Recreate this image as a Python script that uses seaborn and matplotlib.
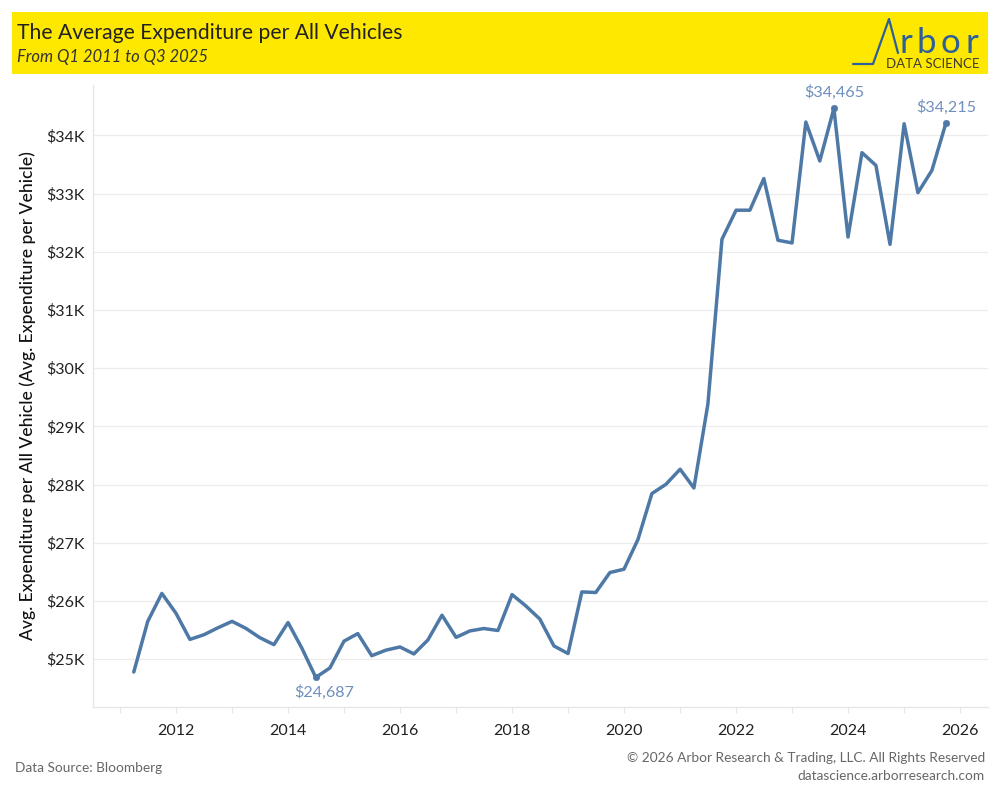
import matplotlib
matplotlib.use("Agg")
import matplotlib.pyplot as plt
import matplotlib.dates as mdates
import matplotlib.ticker as mticker
from matplotlib.patches import Rectangle
from matplotlib.lines import Line2D
import seaborn as sns
import pandas as pd

# ---- data (quarterly, Q1 2011 .. Q3 2025) ----
start_quarter = "2011Q1"
end_quarter = "2025Q3"
avg_expenditure = [
    24780, 25650, 26130, 25790,   # 2011
    25340, 25420, 25540, 25650,   # 2012
    25530, 25370, 25250, 25630,   # 2013
    25190, 24687, 24850, 25310,   # 2014
    25440, 25060, 25155, 25210,   # 2015
    25090, 25330, 25756, 25375,   # 2016
    25486, 25527, 25493, 26110,   # 2017
    25915, 25690, 25228, 25097,   # 2018
    26156, 26146, 26489, 26546,   # 2019
    27056, 27846, 28006, 28264,   # 2020
    27942, 29380, 32216, 32715,   # 2021
    32715, 33259, 32199, 32153,   # 2022
    34231, 33561, 34465, 32254,   # 2023
    33704, 33485, 32128, 34201,   # 2024
    33016, 33399, 34215,          # 2025
]
y_ticks = [25000, 26000, 27000, 28000, 29000, 30000, 31000, 32000, 33000, 34000]
x_tick_years = [2012, 2014, 2016, 2018, 2020, 2022, 2024, 2026]
labelled_quarters = ["2014Q2", "2023Q3", "2025Q3"]

quarters = pd.period_range(start_quarter, end_quarter, freq="Q")
df = pd.DataFrame({
    "quarter": quarters.astype(str),
    "date": quarters.end_time.normalize(),
    "value": avg_expenditure,
})

sns.set_theme(style="white")
plt.rcParams["font.family"] = ["Lato", "DejaVu Sans"]

fig = plt.figure(figsize=(10, 8), dpi=100)
ax = fig.add_axes([0.093, 0.116, 0.895, 0.778])

line_color = "#4e79a7"
label_color = "#6f8fbd"

sns.lineplot(data=df, x="date", y="value", ax=ax, color=line_color, linewidth=2.5)

lab = df[df["quarter"].isin(labelled_quarters)]
sns.scatterplot(data=lab, x="date", y="value", ax=ax, color=line_color, s=22,
                edgecolor=line_color, zorder=5, legend=False)
for _, r in lab.iterrows():
    if r["quarter"] == "2014Q2":
        ax.annotate(f"${r['value']:,.0f}", (r["date"], r["value"]), xytext=(6, -5),
                    textcoords="offset points", ha="center", va="top",
                    color=label_color, fontsize=11.6)
    else:
        ax.annotate(f"${r['value']:,.0f}", (r["date"], r["value"]), xytext=(0, 6),
                    textcoords="offset points", ha="center", va="bottom",
                    color=label_color, fontsize=11.6)

# axes limits
ax.set_xlim(pd.Timestamp("2010-07-08"), pd.Timestamp("2026-07-01"))
ax.set_ylim(24175, 34870)

ax.set_yticks(y_ticks)
ax.yaxis.set_major_formatter(mticker.FuncFormatter(lambda v, p: f"${v/1000:.0f}K"))
ax.xaxis.set_major_locator(mdates.YearLocator(1))
ax.xaxis.set_major_formatter(mticker.FuncFormatter(
    lambda v, p: str(mdates.num2date(v).year) if mdates.num2date(v).year in x_tick_years else ""))

ax.grid(axis="y", color="#ececec", linewidth=0.9)
ax.grid(axis="x", visible=False)
for s in ["top", "right"]:
    ax.spines[s].set_visible(False)
for s in ["left", "bottom"]:
    ax.spines[s].set_color("#e6e6e6")
    ax.spines[s].set_linewidth(1.0)

ax.tick_params(axis="y", length=0, labelsize=11.5, labelcolor="#222222", pad=6)
ax.tick_params(axis="x", length=4, width=0.8, color="#e6e6e6", labelsize=11.5,
               labelcolor="#222222", pad=8, bottom=True)

ax.set_xlabel("")
ax.set_ylabel("Avg. Expenditure per All Vehicle (Avg. Expenditure per Vehicle)",
              fontsize=12.6, color="#111111", labelpad=7, fontweight="medium")

# ---- header ----
fig.patches.append(Rectangle((0.012, 1 - 74 / 800), 0.976, 62 / 800,
                             transform=fig.transFigure, facecolor="#ffe800",
                             edgecolor="none", zorder=0))
fig.text(0.017, 1 - 33 / 800, "The Average Expenditure per All Vehicles",
         fontsize=15.2, color="#222222", va="center", ha="left")
fig.text(0.017, 1 - 57 / 800, "From Q1 2011 to Q3 2025", fontsize=12,
         style="italic", color="#333333", va="center", ha="left")

# logo
logo_blue = "#2d5f9a"
lx = [853, 873, 889, 898]
ly = [64, 64, 19, 53]
fig.lines.append(Line2D([x / 1000 for x in lx], [1 - y / 800 for y in ly],
                        transform=fig.transFigure, color=logo_blue, linewidth=1.6))
for ch, cx in zip("rbor", [906, 926, 950, 972]):
    fig.text(cx / 1000, 1 - 53 / 800, ch, fontsize=25, color=logo_blue,
             va="baseline", ha="center", fontweight="normal")
fig.text(0.979, 1 - 64 / 800, "DATA SCIENCE", fontsize=9.5, color="#3d3d30",
         va="center", ha="right")

# ---- footer ----
fig.text(0.015, 1 - 768 / 800, "Data Source: Bloomberg", fontsize=9.8,
         color="#666666", va="center", ha="left")
fig.text(0.985, 1 - 758 / 800, "\u00a9 2026 Arbor Research & Trading, LLC. All Rights Reserved",
         fontsize=9.8, color="#666666", va="center", ha="right")
fig.text(0.985, 1 - 776 / 800, "datascience.arborresearch.com", fontsize=9.8,
         color="#666666", va="center", ha="right")

fig.savefig("out.png", dpi=100)
